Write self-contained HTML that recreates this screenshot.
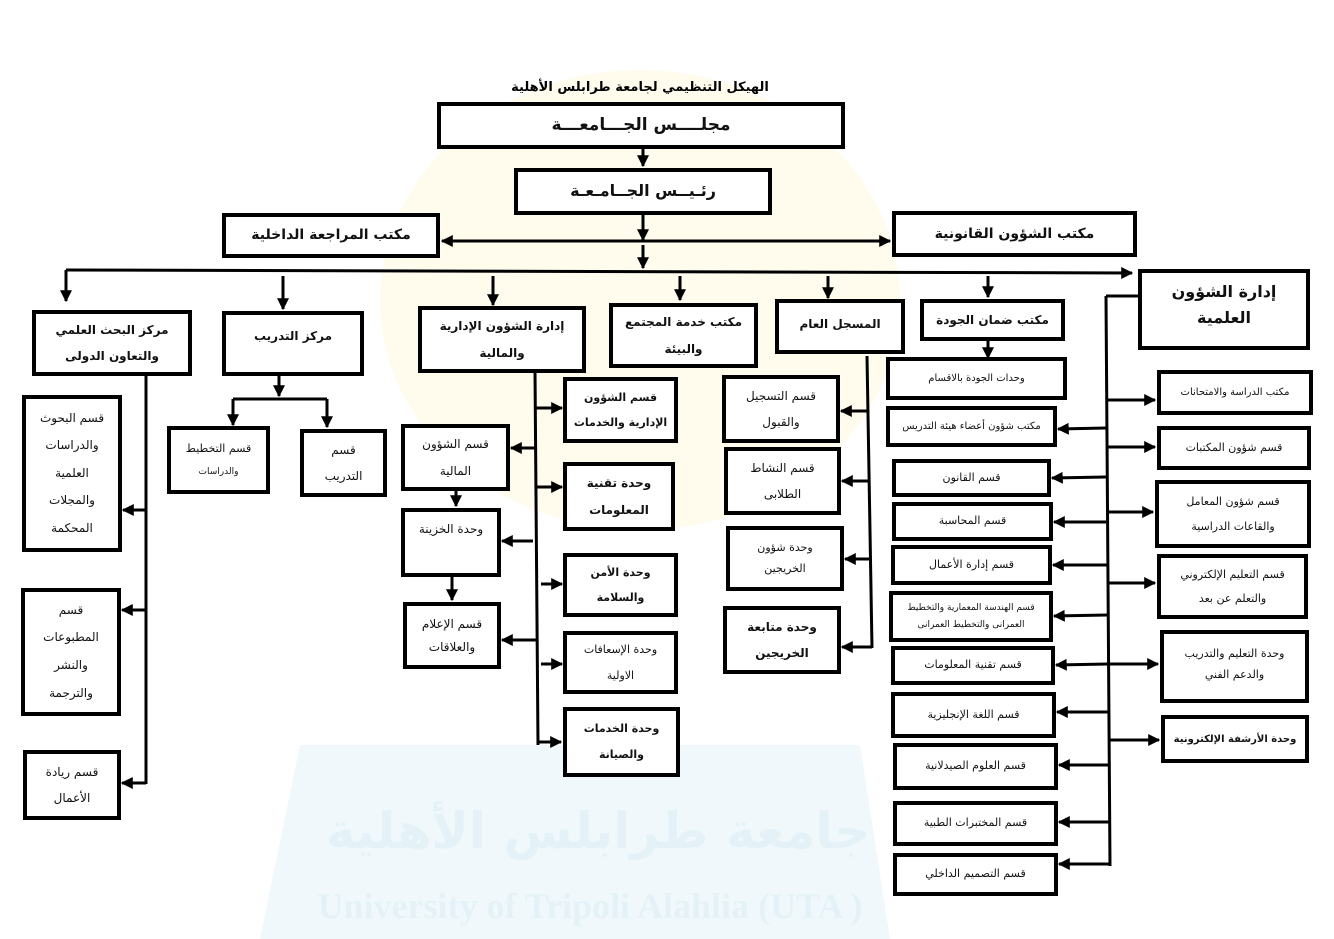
<!DOCTYPE html>
<html><head><meta charset="utf-8"><style>
html,body{margin:0;padding:0;background:#fff;}
#c{position:relative;width:1334px;height:939px;overflow:hidden;background:#fff;font-family:"DejaVu Sans","Liberation Sans",sans-serif;}
.b{position:absolute;border:4px solid #000;box-sizing:border-box;display:flex;align-items:center;justify-content:center;text-align:center;direction:rtl;font-size:11px;line-height:1.9;background:#fff;color:#111;}
.bd{font-weight:bold;}
.t{position:absolute;direction:rtl;}
svg{position:absolute;left:0;top:0;}
</style></head><body><div id="c">
<svg width="1334" height="939" style="z-index:0">
<ellipse cx="640" cy="300" rx="260" ry="230" fill="#fffcee"/>
<polygon points="300,745 860,745 890,939 260,939" fill="#f0f8fc"/>
<text x="598" y="848" font-size="50" font-weight="bold" fill="#e4f2f8" text-anchor="middle" font-family="DejaVu Sans">جامعة طرابلس الأهلية</text>
<text x="590" y="918" font-size="36" font-weight="bold" fill="#e4f2f8" text-anchor="middle" font-family="Liberation Serif">University of Tripoli Alahlia (UTA )</text>
</svg>
<svg width="1334" height="939" style="z-index:1">
<defs><marker id="a" viewBox="0 0 10 10" refX="9" refY="5" markerWidth="4" markerHeight="4" orient="auto"><path d="M0,0L10,5L0,10z" fill="#000"/></marker></defs>
<g stroke="#000" stroke-width="3" fill="none">
<line x1="643" y1="148" x2="643" y2="166" marker-end="url(#a)"/>
<line x1="643" y1="214" x2="643" y2="240" marker-end="url(#a)"/>
<line x1="643" y1="241" x2="442" y2="241" marker-end="url(#a)"/>
<line x1="643" y1="241" x2="890" y2="241" marker-end="url(#a)"/>
<line x1="643" y1="245" x2="643" y2="268" marker-end="url(#a)"/>
<line x1="66" y1="270" x2="1132" y2="273" marker-end="url(#a)"/>
<line x1="66" y1="270" x2="66" y2="301" marker-end="url(#a)"/>
<line x1="283" y1="276" x2="283" y2="309" marker-end="url(#a)"/>
<line x1="493" y1="276" x2="493" y2="305" marker-end="url(#a)"/>
<line x1="680" y1="276" x2="680" y2="300" marker-end="url(#a)"/>
<line x1="828" y1="276" x2="828" y2="298" marker-end="url(#a)"/>
<line x1="988" y1="276" x2="988" y2="297" marker-end="url(#a)"/>
<line x1="988" y1="340" x2="988" y2="358" marker-end="url(#a)"/>
<line x1="146" y1="375" x2="146" y2="784"/>
<line x1="146" y1="510" x2="123" y2="510" marker-end="url(#a)"/>
<line x1="146" y1="610" x2="122" y2="610" marker-end="url(#a)"/>
<line x1="146" y1="783" x2="122" y2="783" marker-end="url(#a)"/>
<line x1="279" y1="375" x2="279" y2="396" marker-end="url(#a)"/>
<line x1="233" y1="399" x2="327" y2="399"/>
<line x1="233" y1="399" x2="233" y2="425" marker-end="url(#a)"/>
<line x1="327" y1="399" x2="327" y2="427" marker-end="url(#a)"/>
<line x1="535" y1="372" x2="538" y2="745"/>
<line x1="536" y1="408" x2="562" y2="408" marker-end="url(#a)"/>
<line x1="536" y1="487" x2="562" y2="487" marker-end="url(#a)"/>
<line x1="541" y1="584" x2="562" y2="584" marker-end="url(#a)"/>
<line x1="541" y1="664" x2="562" y2="664" marker-end="url(#a)"/>
<line x1="538" y1="742" x2="561" y2="742" marker-end="url(#a)"/>
<line x1="535" y1="448" x2="511" y2="448" marker-end="url(#a)"/>
<line x1="533" y1="541" x2="502" y2="541" marker-end="url(#a)"/>
<line x1="536" y1="640" x2="502" y2="640" marker-end="url(#a)"/>
<line x1="456" y1="490" x2="456" y2="506" marker-end="url(#a)"/>
<line x1="452" y1="576" x2="452" y2="600" marker-end="url(#a)"/>
<line x1="867" y1="356" x2="872" y2="648"/>
<line x1="868" y1="411" x2="841" y2="411" marker-end="url(#a)"/>
<line x1="869" y1="481" x2="842" y2="481" marker-end="url(#a)"/>
<line x1="870" y1="559" x2="845" y2="559" marker-end="url(#a)"/>
<line x1="872" y1="647" x2="842" y2="647" marker-end="url(#a)"/>
<line x1="1138" y1="296" x2="1106" y2="296"/>
<line x1="1106" y1="296" x2="1110" y2="866"/>
<line x1="1106" y1="428" x2="1058" y2="429" marker-end="url(#a)"/>
<line x1="1106" y1="477" x2="1052" y2="478" marker-end="url(#a)"/>
<line x1="1106" y1="522" x2="1054" y2="522" marker-end="url(#a)"/>
<line x1="1107" y1="565" x2="1053" y2="565" marker-end="url(#a)"/>
<line x1="1107" y1="615" x2="1054" y2="616" marker-end="url(#a)"/>
<line x1="1108" y1="664" x2="1056" y2="665" marker-end="url(#a)"/>
<line x1="1108" y1="712" x2="1057" y2="712" marker-end="url(#a)"/>
<line x1="1108" y1="765" x2="1059" y2="765" marker-end="url(#a)"/>
<line x1="1109" y1="822" x2="1059" y2="822" marker-end="url(#a)"/>
<line x1="1110" y1="864" x2="1059" y2="864" marker-end="url(#a)"/>
<line x1="1106" y1="400" x2="1155" y2="400" marker-end="url(#a)"/>
<line x1="1107" y1="447" x2="1155" y2="447" marker-end="url(#a)"/>
<line x1="1107" y1="512" x2="1153" y2="512" marker-end="url(#a)"/>
<line x1="1107" y1="583" x2="1155" y2="583" marker-end="url(#a)"/>
<line x1="1108" y1="664" x2="1158" y2="664" marker-end="url(#a)"/>
<line x1="1108" y1="740" x2="1159" y2="740" marker-end="url(#a)"/>
</g></svg>
<div style="position:relative;z-index:2">
<div class="t" style="left:480px;top:80px;width:320px;text-align:center;font-size:13px;font-weight:bold;">الهيكل التنظيمي لجامعة طرابلس الأهلية</div>
<div class="b bd" style="left:437px;top:102px;width:408px;height:47px;font-size:17px;">مجلــــس الجـــامعـــة</div>
<div class="b bd" style="left:514px;top:168px;width:258px;height:47px;font-size:16px;">رئـيــس الجــامـعـة</div>
<div class="b bd" style="left:222px;top:213px;width:218px;height:45px;font-size:14px;">مكتب المراجعة الداخلية</div>
<div class="b bd" style="left:892px;top:211px;width:245px;height:46px;font-size:14px;">مكتب الشؤون القانونية</div>
<div class="b bd" style="left:1138px;top:269px;width:172px;height:81px;font-size:16px;line-height:1.6;align-items:flex-start;padding-top:6px;">إدارة الشؤون<br>العلمية</div>
<div class="b bd" style="left:32px;top:310px;width:160px;height:66px;font-size:12px;line-height:2.2;">مركز البحث العلمي<br>والتعاون الدولى</div>
<div class="b bd" style="left:222px;top:311px;width:142px;height:65px;font-size:12px;align-items:flex-start;padding-top:10px;">مركز التدريب</div>
<div class="b bd" style="left:418px;top:306px;width:168px;height:67px;font-size:12px;line-height:2.2;">إدارة الشؤون الإدارية<br>والمالية</div>
<div class="b bd" style="left:609px;top:303px;width:149px;height:65px;font-size:12px;line-height:2.2;">مكتب خدمة المجتمع<br>والبيئة</div>
<div class="b bd" style="left:775px;top:299px;width:130px;height:55px;font-size:12px;align-items:flex-start;padding-top:10px;">المسجل العام</div>
<div class="b bd" style="left:920px;top:299px;width:145px;height:42px;font-size:12px;">مكتب ضمان الجودة</div>

<div class="b" style="left:22px;top:395px;width:100px;height:157px;font-size:12px;line-height:2.3;">قسم البحوث<br>والدراسات<br>العلمية<br>والمجلات<br>المحكمة</div>
<div class="b" style="left:21px;top:588px;width:100px;height:128px;font-size:12px;line-height:2.3;">قسم<br>المطبوعات<br>والنشر<br>والترجمة</div>
<div class="b" style="left:23px;top:750px;width:98px;height:70px;font-size:12px;line-height:2.2;">قسم ريادة<br>الأعمال</div>
<div class="b" style="left:167px;top:426px;width:103px;height:68px;font-size:11px;line-height:2;"><div>قسم التخطيط<br><span style="font-size:9px">والدراسات</span></div></div>
<div class="b" style="left:300px;top:429px;width:87px;height:68px;font-size:12px;line-height:2.2;">قسم<br>التدريب</div>

<div class="b" style="left:401px;top:424px;width:109px;height:67px;font-size:12px;line-height:2.2;">قسم الشؤون<br>المالية</div>
<div class="b" style="left:401px;top:508px;width:100px;height:69px;font-size:12px;align-items:flex-start;padding-top:6px;">وحدة الخزينة</div>
<div class="b" style="left:403px;top:602px;width:98px;height:67px;font-size:12px;line-height:1.9;">قسم الإعلام<br>والعلاقات</div>
<div class="b bd" style="left:563px;top:377px;width:115px;height:66px;font-size:11px;line-height:2.3;">قسم الشؤون<br>الإدارية والخدمات</div>
<div class="b bd" style="left:563px;top:462px;width:112px;height:69px;font-size:12px;line-height:2.2;">وحدة تقنية<br>المعلومات</div>
<div class="b bd" style="left:563px;top:553px;width:115px;height:64px;font-size:11px;line-height:2.3;">وحدة الأمن<br>والسلامة</div>
<div class="b" style="left:563px;top:631px;width:115px;height:63px;font-size:11px;line-height:2.3;">وحدة الإسعافات<br>الاولية</div>
<div class="b bd" style="left:563px;top:707px;width:117px;height:70px;font-size:11px;line-height:2.4;">وحدة الخدمات<br>والصيانة</div>

<div class="b" style="left:722px;top:375px;width:118px;height:68px;font-size:12px;line-height:2.2;">قسم التسجيل<br>والقبول</div>
<div class="b" style="left:724px;top:447px;width:117px;height:68px;font-size:12px;line-height:2.2;">قسم النشاط<br>الطلابى</div>
<div class="b" style="left:726px;top:526px;width:118px;height:65px;font-size:11px;line-height:1.9;">وحدة شؤون<br>الخريجين</div>
<div class="b bd" style="left:723px;top:606px;width:118px;height:68px;font-size:12px;line-height:2.2;">وحدة متابعة<br>الخريجين</div>

<div class="b" style="left:886px;top:357px;width:181px;height:43px;font-size:10px;">وحدات الجودة بالاقسام</div>
<div class="b" style="left:886px;top:406px;width:171px;height:41px;font-size:10px;">مكتب شؤون أعضاء هيئة التدريس</div>
<div class="b" style="left:892px;top:459px;width:159px;height:38px;font-size:11px;">قسم القانون</div>
<div class="b" style="left:892px;top:502px;width:161px;height:39px;font-size:11px;">قسم المحاسبة</div>
<div class="b" style="left:891px;top:545px;width:161px;height:40px;font-size:11px;">قسم إدارة الأعمال</div>
<div class="b" style="left:889px;top:591px;width:164px;height:51px;font-size:9px;line-height:1.8;">قسم الهندسة المعمارية والتخطيط<br>العمرانى والتخطيط العمرانى</div>
<div class="b" style="left:891px;top:646px;width:164px;height:39px;font-size:11px;">قسم تقنية المعلومات</div>
<div class="b" style="left:891px;top:692px;width:165px;height:46px;font-size:11px;">قسم اللغة الإنجليزية</div>
<div class="b" style="left:893px;top:743px;width:165px;height:47px;font-size:11px;">قسم العلوم الصيدلانية</div>
<div class="b" style="left:893px;top:801px;width:165px;height:45px;font-size:11px;">قسم المختبرات الطبية</div>
<div class="b" style="left:893px;top:853px;width:165px;height:43px;font-size:11px;">قسم التصميم الداخلي</div>

<div class="b" style="left:1157px;top:370px;width:156px;height:45px;font-size:10px;">مكتب الدراسة والامتحانات</div>
<div class="b" style="left:1157px;top:426px;width:154px;height:44px;font-size:11px;">قسم شؤون المكتبات</div>
<div class="b" style="left:1155px;top:480px;width:156px;height:68px;font-size:11px;line-height:2.3;">قسم شؤون المعامل<br>والقاعات الدراسية</div>
<div class="b" style="left:1157px;top:554px;width:151px;height:65px;font-size:11px;line-height:2.1;">قسم التعليم الإلكتروني<br>والتعلم عن بعد</div>
<div class="b" style="left:1160px;top:630px;width:149px;height:73px;font-size:11px;line-height:1.9;align-items:flex-start;padding-top:10px;">وحدة التعليم والتدريب<br>والدعم الفني</div>
<div class="b bd" style="left:1161px;top:715px;width:148px;height:48px;font-size:10px;">وحدة الأرشفة الإلكترونية</div>
</div>
</div></body></html>
